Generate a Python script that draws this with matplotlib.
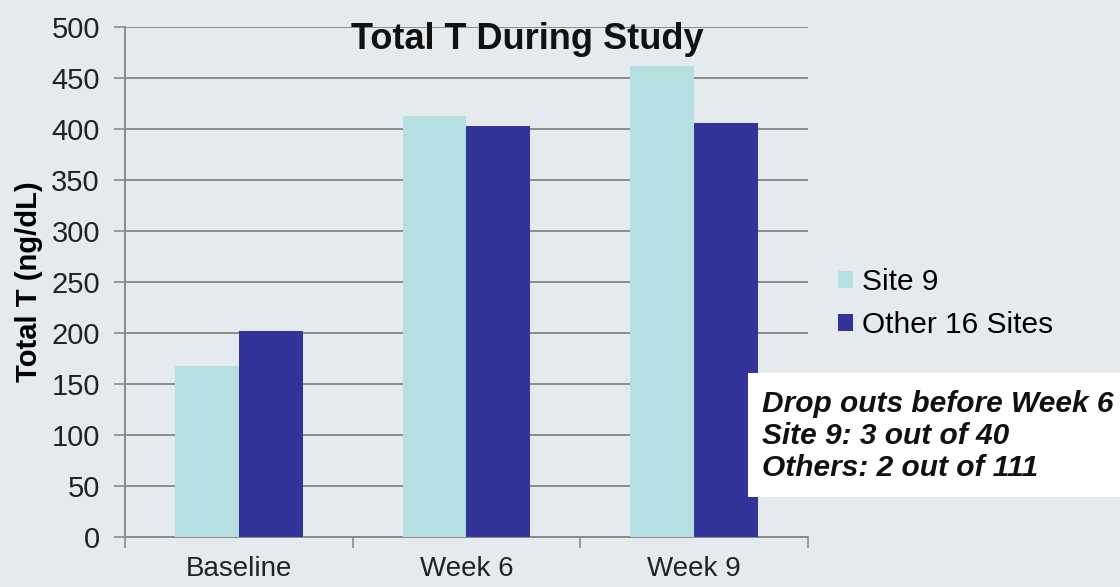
import matplotlib.pyplot as plt
import numpy as np

plt.rcParams["font.family"] = ["Liberation Sans", "DejaVu Sans"]

categories = ["Baseline", "Week 6", "Week 9"]
series_names = ["Site 9", "Other 16 Sites"]
site9 = [167, 412, 461]
others = [202, 403, 406]
yticks = [0, 50, 100, 150, 200, 250, 300, 350, 400, 450, 500]
note_lines = ["Drop outs before Week 6", "Site 9: 3 out of 40", "Others: 2 out of 111"]

BG = "#e5eaee"
COL_SITE9 = "#b5dfe1"
COL_OTHER = "#333399"
COL_GRID = "#8c8c8c"

fig = plt.figure(figsize=(11.2, 5.87), dpi=100, facecolor=BG)
ax = fig.add_axes([0.1116, 0.0857, 0.6098, 0.8688])
ax.set_facecolor(BG)

x = np.arange(len(categories))
w = 0.28
ax.bar(x - w / 2, site9, w, color=COL_SITE9, label=series_names[0], zorder=3)
ax.bar(x + w / 2, others, w, color=COL_OTHER, label=series_names[1], zorder=3)

ax.set_xlim(-0.5, len(categories) - 0.5)
ax.set_ylim(0, 500)
ax.set_yticks(yticks)
ax.yaxis.grid(True, color=COL_GRID, linewidth=1.4, zorder=0)
ax.tick_params(axis="y", labelsize=21, length=8, width=1.2, color=COL_GRID,
               pad=10, labelcolor="#222222")

# category boundaries as major ticks, labels on minor ticks at centres
ax.set_xticks(np.arange(len(categories) + 1) - 0.5)
ax.set_xticklabels([])
ax.set_xticks(x, minor=True)
ax.set_xticklabels(categories, minor=True)
ax.tick_params(axis="x", which="major", length=8, width=1.2, color=COL_GRID)
ax.tick_params(axis="x", which="minor", length=0, labelsize=20, pad=14,
               labelcolor="#222222")

for s in ["top", "right"]:
    ax.spines[s].set_visible(False)
for s in ["left", "bottom"]:
    ax.spines[s].set_color(COL_GRID)
    ax.spines[s].set_linewidth(1.4)

ax.set_ylabel("Total T (ng/dL)", fontsize=21, fontweight="bold")
ax.yaxis.set_label_coords(-0.12, 0.5)

fig.text(0.471, 0.933, "Total T During Study", ha="center", va="center",
         fontsize=26, fontweight="bold", color="#111111")

fig.legend(loc="upper left", bbox_to_anchor=(0.724, 0.589), frameon=False,
           fontsize=21.5, handlelength=0.5, handleheight=0.5,
           handletextpad=0.3, labelspacing=0.5)

# white note box
fig.patches.append(plt.Rectangle((748 / 1120, 1 - 497 / 587), 372 / 1120, 124 / 587,
                                 transform=fig.transFigure, facecolor="white",
                                 edgecolor="none", zorder=5))
for i, line in enumerate(note_lines):
    fig.text(762 / 1120, 1 - (404 + 32 * i) / 587, line, ha="left", va="center",
             fontsize=21.5, fontweight="bold", fontstyle="italic",
             color="#111111", zorder=6)

fig.savefig("out.png", dpi=100, facecolor=BG)
